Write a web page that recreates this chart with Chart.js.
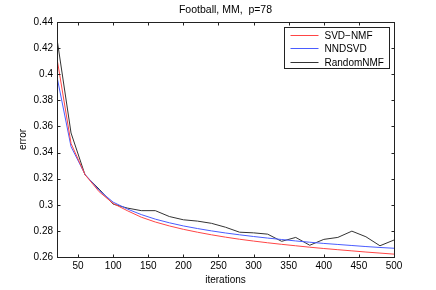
<!DOCTYPE html>
<html>
<head>
<meta charset="utf-8">
<style>
  html, body { margin: 0; padding: 0; background: #fff; }
  #errorChart { display: block; }
</style>
</head>
<body>
<canvas id="errorChart" width="436" height="290"></canvas>

<script src="https://cdn.jsdelivr.net/npm/chart.js"></script>
<script>
  // values
  const iterations = [20, 40, 60, 80, 100, 120, 140, 160, 180, 200, 220, 240, 260,
    280, 300, 320, 340, 360, 380, 400, 420, 440, 460, 480, 500];
  const svdNmf = [0.412, 0.347, 0.323, 0.310, 0.301, 0.2955, 0.2905, 0.2868, 0.2838,
    0.2812, 0.2790, 0.2770, 0.2752, 0.2736, 0.2722, 0.2709, 0.2697, 0.2686, 0.2675,
    0.2665, 0.2656, 0.2647, 0.2638, 0.2630, 0.2622];
  const nndsvd = [0.398, 0.3445, 0.3232, 0.311, 0.302, 0.2968, 0.2925, 0.2890, 0.2862,
    0.2838, 0.2818, 0.2800, 0.2784, 0.2770, 0.2757, 0.2745, 0.2734, 0.2723, 0.2713,
    0.2704, 0.2696, 0.2688, 0.2680, 0.2673, 0.2667];
  const randomNmf = [0.427, 0.355, 0.3228, 0.312, 0.3005, 0.2975, 0.2955, 0.2955, 0.2910,
    0.2885, 0.2875, 0.2858, 0.2828, 0.2790, 0.2785, 0.2775, 0.2720, 0.2750, 0.2690,
    0.2735, 0.2750, 0.2798, 0.2755, 0.2686, 0.2730];
  const xTicks = [50, 100, 150, 200, 250, 300, 350, 400, 450, 500];
  const yTicks = [0.26, 0.28, 0.3, 0.32, 0.34, 0.36, 0.38, 0.4, 0.42, 0.44];
  const chartTitle = "Football, MM,  p=78";

  const FONT = '"Liberation Sans", Arial, Helvetica, sans-serif';
  Chart.defaults.font.family = FONT;
  Chart.defaults.font.size = 10;
  Chart.defaults.color = "#000";

  const toPoints = (ys) => ys.map((v, i) => ({ x: iterations[i], y: v }));

  // matlab style box, inward ticks, title and legend
  const matlabAxes = {
    id: "matlabAxes",
    afterDatasetsDraw(chart) {
      const { ctx, chartArea: a, scales } = chart;
      const L = Math.round(a.left) + 0.5;
      const R = Math.round(a.right) + 0.5;
      const T = Math.round(a.top) + 0.5;
      const B = Math.round(a.bottom) + 0.5;
      ctx.save();
      ctx.strokeStyle = "#222";
      ctx.lineWidth = 1;
      ctx.beginPath();
      xTicks.forEach((v) => {
        const px = Math.round(scales.x.getPixelForValue(v)) + 0.5;
        ctx.moveTo(px, B); ctx.lineTo(px, B - 3);
        ctx.moveTo(px, T); ctx.lineTo(px, T + 3);
      });
      yTicks.forEach((v) => {
        const py = Math.round(scales.y.getPixelForValue(v)) + 0.5;
        ctx.moveTo(L, py); ctx.lineTo(L + 3, py);
        ctx.moveTo(R, py); ctx.lineTo(R - 3, py);
      });
      ctx.stroke();
      ctx.strokeRect(L, T, R - L, B - T);

      // title
      ctx.fillStyle = "#000";
      ctx.font = "10.5px " + FONT;
      ctx.textAlign = "center";
      ctx.textBaseline = "middle";
      ctx.fillText(chartTitle, (a.left + a.right) / 2, 10);

      // legend
      const bx = Math.round(a.right) - 110 + 0.5;
      const by = Math.round(a.top) + 5 + 0.5;
      ctx.fillStyle = "#fff";
      ctx.fillRect(bx, by, 105, 41);
      ctx.strokeRect(bx, by, 105, 41);
      ctx.font = "10px " + FONT;
      ctx.textAlign = "left";
      chart.data.datasets.forEach((ds, i) => {
        const ly = Math.round(by + 7 + i * 13.5) + 0.5;
        ctx.strokeStyle = ds.borderColor;
        ctx.beginPath();
        ctx.moveTo(bx + 6, ly);
        ctx.lineTo(bx + 34, ly);
        ctx.stroke();
        ctx.fillStyle = "#000";
        ctx.fillText(ds.label, bx + 40, ly + 0.5);
      });
      ctx.restore();
    },
  };

  const ctx = document.getElementById("errorChart").getContext("2d");

  new Chart(ctx, {
    type: "line",
    data: {
      datasets: [
        { label: "SVD\u2212NMF", data: toPoints(svdNmf), borderColor: "#ff4545" },
        { label: "NNDSVD", data: toPoints(nndsvd), borderColor: "#4a5cff" },
        { label: "RandomNMF", data: toPoints(randomNmf), borderColor: "#333333" },
      ],
    },
    options: {
      responsive: false,
      animation: false,
      layout: { padding: { top: 22, right: 42, left: 0, bottom: 0 } },
      elements: {
        line: { borderWidth: 1, tension: 0 },
        point: { radius: 0 },
      },
      plugins: {
        legend: { display: false },
        title: { display: false },
        tooltip: { enabled: false },
      },
      scales: {
        x: {
          type: "linear",
          min: 20,
          max: 500,
          afterBuildTicks: (s) => { s.ticks = xTicks.map((v) => ({ value: v })); },
          afterFit: (s) => { s.height = 33; },
          grid: { display: false, drawTicks: false },
          border: { display: false },
          ticks: { padding: 3, maxRotation: 0, autoSkip: false },
          title: { display: true, text: "iterations", padding: { top: 0, bottom: 4 } },
        },
        y: {
          min: 0.26,
          max: 0.44,
          afterBuildTicks: (s) => { s.ticks = yTicks.map((v) => ({ value: v })); },
          afterFit: (s) => { s.width = 57; },
          grid: { display: false, drawTicks: false },
          border: { display: false },
          ticks: {
            padding: 4,
            callback: (v) => String(Number(v.toFixed(2))),
          },
          title: { display: true, text: "error", padding: { top: 17, bottom: 0 } },
        },
      },
    },
    plugins: [matlabAxes],
  });
</script>
</body>
</html>
